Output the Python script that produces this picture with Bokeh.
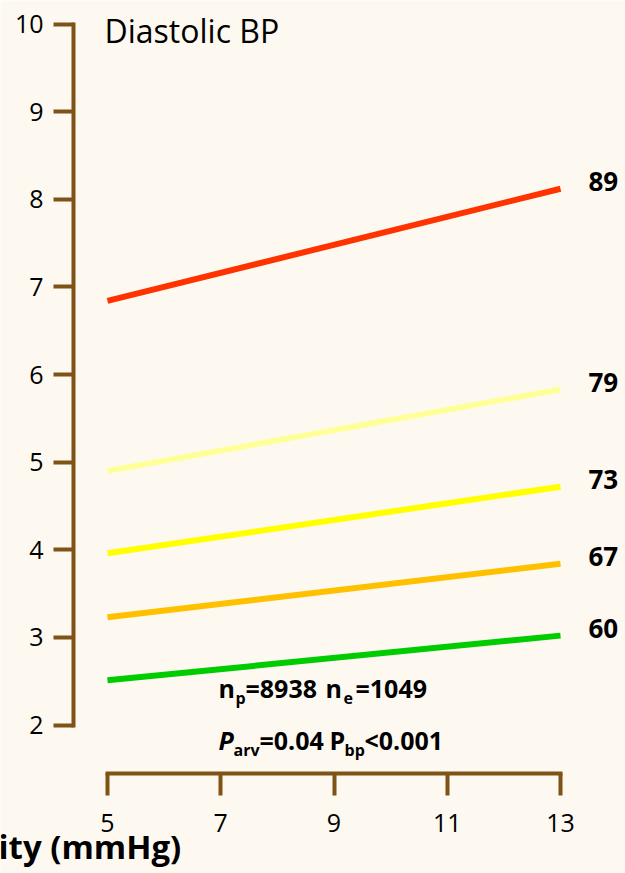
from bokeh.plotting import figure
from bokeh.models import ColumnDataSource, FixedTicker, Label, Range1d
from bokeh.core.properties import value
from bokeh.embed import file_html
from bokeh.resources import INLINE

# ---- data -------------------------------------------------------------
bp_groups = ["60", "67", "73", "79", "89"]          # diastolic BP level of each line
variability = [5, 13]                                # x at the two ends of each line (mmHg)
risk_at_5 = [2.51, 3.23, 3.96, 4.90, 6.84]           # value at variability 5
risk_at_13 = [3.02, 3.84, 4.72, 5.83, 8.12]          # value at variability 13
y_ticks = [2, 3, 4, 5, 6, 7, 8, 9, 10]
x_ticks = [5, 7, 9, 11, 13]
title_text = "Diastolic BP"
axis_title = "ity (mmHg)"

# ---- style ------------------------------------------------------------
line_colors = ["#00CC00", "#FFC000", "#FFFF00", "#FFFF99", "#FF3300"]
BROWN = "#7F5316"
BG = "#FDF9F0"
FONT = "Open Sans"

W, H = 625, 873
Y_AXIS_PX = 73     # canvas x of the vertical axis line
X_AXIS_PX = 773    # canvas y of the horizontal axis line

# canvas pixel positions of the axis end values
X_LO_PX, X_HI_PX = 107, 560      # x = 5 and x = 13
Y_LO_PX, Y_HI_PX = 724.5, 23.5   # y = 2 and y = 10

sx = (X_HI_PX - X_LO_PX) / (x_ticks[-1] - x_ticks[0])
sy = (Y_LO_PX - Y_HI_PX) / (y_ticks[-1] - y_ticks[0])
x_start = x_ticks[0] - X_LO_PX / sx
x_end = x_start + W / sx
y_end = y_ticks[-1] + Y_HI_PX / sy
y_start = y_end - H / sy


def data_x(px):
    return x_start + px / sx


def data_y(py):
    return y_end - py / sy


# the plot frame covers the whole canvas; both axes sit at fixed positions inside it
p = figure(
    width=W, height=H,
    x_range=Range1d(x_start, x_end), y_range=Range1d(y_start, y_end),
    output_backend="svg", toolbar_location=None, title=None,
    min_border_left=0, min_border_right=0, min_border_top=0, min_border_bottom=0,
    background_fill_color=BG, border_fill_color=BG,
)
p.outline_line_color = None
p.xgrid.visible = False
p.ygrid.visible = False

p.yaxis[0].fixed_location = data_x(Y_AXIS_PX)
p.xaxis[0].fixed_location = data_y(X_AXIS_PX)

for ax, ticks, tick_out, standoff in ((p.yaxis[0], y_ticks, 20, 10), (p.xaxis[0], x_ticks, 22, 18)):
    ax.ticker = FixedTicker(ticks=ticks)
    ax.bounds = (ticks[0], ticks[-1])
    ax.axis_line_color = BROWN
    ax.axis_line_width = 4
    ax.axis_line_cap = "square"
    ax.major_tick_line_color = BROWN
    ax.major_tick_line_width = 4
    ax.major_tick_out = tick_out
    ax.major_tick_in = 0
    ax.minor_tick_line_color = None
    ax.major_label_text_font = FONT
    ax.major_label_text_font_size = "25px"
    ax.major_label_text_color = "black"
    ax.major_label_standoff = standoff

# ---- the five BP lines ------------------------------------------------
src = ColumnDataSource(dict(
    x0=[variability[0]] * len(bp_groups), y0=risk_at_5,
    x1=[variability[1]] * len(bp_groups), y1=risk_at_13,
    color=line_colors, group=bp_groups,
))
p.segment("x0", "y0", "x1", "y1", source=src, line_color="color", line_width=6)

# group labels at the right end of each line
p.text("x1", "y1", text="group", source=src, x_offset=28, y_offset=-7,
       text_font=value(FONT), text_font_size="26px", text_font_style="bold",
       text_color="black", text_align="left", text_baseline="middle")

# ---- title (y is the vertical centre of the capitals) -------------------
p.add_layout(Label(x=data_x(104), y=data_y(30), text=title_text, text_font=FONT,
                   text_font_size="32px", text_color="black", text_baseline="middle"))

# ---- statistics text (main text and subscripts as separate pieces) -----
MAIN, SUB = "25px", "16px"
pieces = [
    # text, left px, centre px, size, style
    ("n", 218, 687, MAIN, "bold"),
    ("p", 235, 697, SUB, "bold"),
    ("=8938", 245, 687, MAIN, "bold"),
    ("n", 325, 687, MAIN, "bold"),
    ("e", 343, 697, SUB, "bold"),
    ("=1049", 355, 687, MAIN, "bold"),
    ("P", 218, 739, MAIN, "bold italic"),
    ("arv", 233, 749, SUB, "bold"),
    ("=0.04", 259, 739, MAIN, "bold"),
    ("P", 329, 739, MAIN, "bold"),
    ("bp", 344, 749, SUB, "bold"),
    ("<0.001", 364, 739, MAIN, "bold"),
]
stats = ColumnDataSource(dict(
    x=[data_x(t[1]) for t in pieces], y=[data_y(t[2]) for t in pieces],
    text=[t[0] for t in pieces], size=[t[3] for t in pieces], style=[t[4] for t in pieces],
))
p.text("x", "y", text="text", source=stats, text_font=value(FONT),
       text_font_size={"field": "size"}, text_font_style={"field": "style"},
       text_color="black", text_align="left", text_baseline="middle")

# ---- x axis title (bottom left) ----------------------------------------
p.add_layout(Label(x=data_x(-2), y=data_y(846), text=axis_title, text_font=FONT,
                   text_font_size="33px", text_font_style="bold", text_color="black",
                   text_baseline="middle"))

open("out.html", "w").write(file_html(p, INLINE))
